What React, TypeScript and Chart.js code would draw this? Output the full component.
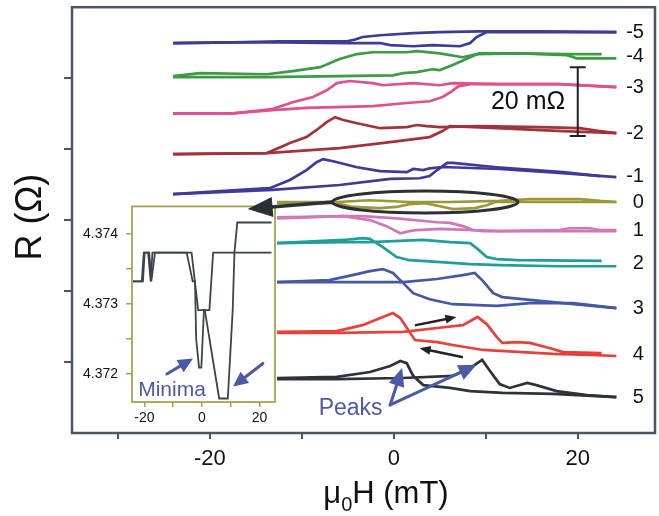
import React, { useEffect, useRef } from 'react';
import { Chart, registerables } from 'chart.js';

Chart.register(...registerables);

type Pt = [number, number];

// ---- main panel: field (mT) vs stacked resistance (mΩ offset), two sweep branches per curve ----
const m5A: Pt[] = [[-24.0,109.9],[-17.5,110.1],[-12.4,110.4],[-5.1,110.4],[-4.2,110.9],[-3.4,111.6],[-1.5,112.1],[2.1,112.7],[5.0,113.0],[9.3,113.2],[15.9,113.2],[24.2,113.0]];
const m5B: Pt[] = [[-24.0,109.9],[-17.5,110.1],[-12.4,110.1],[-5.1,109.9],[-1.5,109.9],[-0.4,109.3],[2.1,109.0],[4.2,109.3],[7.2,109.0],[8.3,109.9],[9.0,111.6],[10.1,113.0],[15.9,113.0],[24.2,113.0]];
const m4A: Pt[] = [[-24.0,100.6],[-21.1,101.4],[-13.8,101.1],[-11.0,102.0],[-8.0,103.1],[-5.9,105.4],[-4.0,106.8],[-2.3,107.3],[1.4,107.3],[2.5,107.6],[5.0,107.0],[7.5,105.9],[9.0,106.8],[13.7,107.0],[18.8,106.8],[22.6,106.8]];
const m4B: Pt[] = [[-24.0,100.3],[-13.8,100.3],[-0.1,100.8],[1.0,101.4],[2.5,101.7],[4.2,102.5],[5.0,102.3],[6.4,103.7],[8.3,105.9],[9.3,107.0],[13.7,107.0],[18.8,106.5],[19.9,105.6],[24.2,105.6]];
const m3A: Pt[] = [[-24.0,90.1],[-17.5,90.1],[-13.2,91.3],[-11.0,93.2],[-8.8,94.7],[-7.3,96.6],[-6.2,98.6],[-4.8,99.2],[-2.3,98.6],[-1.2,98.0],[2.1,98.6],[5.0,98.0],[6.4,98.6],[11.5,98.3],[18.0,98.3],[24.2,97.5]];
const m3B: Pt[] = [[-24.0,90.1],[-17.5,90.1],[-13.2,91.0],[-9.5,91.6],[-2.3,92.1],[1.4,93.0],[3.9,93.5],[5.3,94.7],[6.3,96.3],[7.0,97.7],[8.3,98.3],[18.0,98.3],[24.2,97.5]];
const m2A: Pt[] = [[-24.0,78.6],[-13.8,78.9],[-12.1,80.8],[-11.3,81.7],[-9.5,83.4],[-8.4,85.4],[-7.3,87.6],[-6.4,89.0],[-5.5,88.2],[-4.0,87.3],[-1.5,85.9],[1.4,86.2],[2.5,86.8],[3.6,86.5],[5.0,86.2],[9.3,86.5],[15.9,86.2],[20.2,85.9],[22.4,85.1],[24.2,84.5]];
const m2B: Pt[] = [[-24.0,78.6],[-13.8,78.9],[-5.9,80.3],[-0.4,82.0],[3.9,83.4],[5.3,85.1],[6.1,86.5],[11.2,85.9],[18.4,85.1],[24.2,84.5]];
const m1A: Pt[] = [[-24.0,67.3],[-16.7,68.5],[-13.5,69.0],[-11.3,71.3],[-9.5,74.1],[-8.4,76.3],[-7.7,77.2],[-6.6,76.6],[-4.0,74.9],[-1.5,73.8],[1.4,73.5],[2.1,74.4],[3.2,74.1],[3.9,74.6],[5.0,74.9],[6.1,74.9],[11.5,74.4],[18.0,73.3],[24.2,72.1]];
const m1B: Pt[] = [[-24.0,67.3],[-13.2,68.5],[-5.9,69.9],[-0.4,71.6],[2.8,71.8],[3.9,72.4],[4.7,74.1],[5.8,76.1],[6.4,76.1],[11.2,74.9],[18.4,73.5],[22.4,72.4]];
const p0A: Pt[] = [[-12.7,65.1],[-6.2,65.1],[-2.6,65.6],[1.7,65.1],[6.1,65.1],[11.5,65.4],[14.8,65.9],[20.2,65.9],[22.4,65.4],[24.2,65.1]];
const p0B: Pt[] = [[-12.7,64.8],[-6.2,64.8],[-4.5,63.7],[-1.5,63.4],[0.3,63.7],[1.7,64.5],[3.4,64.8],[5.0,63.9],[6.4,63.1],[8.8,63.4],[10.1,64.2],[11.0,65.1],[24.2,65.1]];
const p1A: Pt[] = [[-12.7,60.8],[-5.5,61.1],[-2.6,60.0],[-0.8,58.3],[0.7,56.3],[1.7,56.9],[2.5,57.2],[5.0,57.5],[8.6,57.2],[11.5,56.9],[18.0,57.2],[19.1,57.7],[21.3,57.7],[22.4,57.2],[24.2,57.2]];
const p1B: Pt[] = [[-12.7,60.5],[-5.5,61.1],[-3.4,61.1],[0.3,60.5],[4.7,59.4],[6.1,59.2],[7.5,58.3],[8.6,57.2],[9.7,56.9],[24.2,56.9]];
const p2A: Pt[] = [[-12.7,53.5],[-5.5,54.4],[-3.4,54.9],[-2.6,54.7],[-1.2,52.4],[0.3,49.6],[1.7,48.7],[4.7,48.2],[8.3,47.6],[11.5,47.3],[18.0,47.0],[24.2,47.0]];
const p2B: Pt[] = [[-12.7,53.5],[-5.5,53.8],[-2.6,53.8],[3.2,54.4],[6.1,53.8],[8.3,53.5],[9.0,52.1],[10.1,49.6],[11.2,49.0],[13.4,48.7],[22.6,48.5]];
const p3A: Pt[] = [[-12.7,42.5],[-7.0,43.1],[-4.5,44.5],[-2.6,45.6],[-1.2,46.2],[-0.1,45.1],[1.0,42.3],[2.1,39.4],[3.9,37.7],[6.4,36.3],[11.2,35.8],[14.8,36.6],[19.5,36.6],[24.2,35.2]];
const p3B: Pt[] = [[-12.7,42.5],[-7.0,42.5],[1.0,42.5],[4.7,43.4],[7.5,44.5],[8.8,45.1],[9.7,42.8],[10.8,39.4],[11.8,38.3],[14.8,37.5],[18.4,36.6],[24.2,35.2]];
const p4A: Pt[] = [[-12.7,28.5],[-6.2,28.7],[-3.4,30.4],[-1.2,32.7],[-0.1,33.8],[0.7,32.4],[1.7,28.5],[2.3,26.2],[4.7,25.6],[6.4,24.8],[9.7,23.4],[14.0,22.8],[17.3,22.3],[21.3,22.0],[24.2,21.7]];
const p4B: Pt[] = [[-12.7,28.2],[-6.2,28.2],[1.0,28.5],[4.7,29.6],[7.5,30.4],[9.1,32.7],[10.1,30.7],[11.2,27.0],[11.8,25.4],[13.4,25.6],[14.8,25.4],[17.0,23.9],[18.4,22.8],[22.6,22.5]];
const p5A: Pt[] = [[-12.7,15.5],[-6.2,15.8],[-2.6,17.2],[-0.4,18.9],[0.7,20.3],[1.4,19.7],[2.1,16.1],[3.2,13.5],[6.1,12.7],[8.3,11.8],[11.8,11.3],[17.3,11.0],[24.2,10.1]];
const p5B: Pt[] = [[-12.7,15.2],[-6.2,15.2],[1.0,15.5],[6.4,16.1],[8.3,18.3],[9.6,20.6],[10.4,17.7],[11.5,13.8],[12.6,12.7],[14.5,14.1],[15.5,13.5],[17.7,11.8],[21.0,10.7],[24.2,10.1]];

const curveNames = ['-5', '-4', '-3', '-2', '-1', '0', '1', '2', '3', '4', '5'];
const curveColors = ['#3b3c94', '#3d9a45', '#e0508a', '#a3323c', '#3f3a98', '#9a9838', '#d178b4', '#1f9e9a', '#4558a6', '#e8413c', '#2c3339'];
const curveBranches: Pt[][][] = [[m5A, m5B], [m4A, m4B], [m3A, m3B], [m2A, m2B], [m1A, m1B], [p0A, p0B], [p1A, p1B], [p2A, p2B], [p3A, p3B], [p4A, p4B], [p5A, p5B]];

const xTickValues = [-30, -20, -10, 0, 10, 20];
const xTickText = ['', '-20', '', '0', '', '20'];
const yTickValues = [20, 40, 60, 80, 100];

// ---- inset: curve "0" in absolute resistance (Ω) ----
const insetA: Pt[] = [[-24.0,4.37332],[-20.9,4.37332],[-20.2,4.37373],[-18.7,4.37373],[-17.8,4.37332],[-17.2,4.37373],[-5.3,4.37373],[-3.2,4.37332],[-2.4,4.37332],[-2.0,4.3725],[-1.0,4.37209],[-0.2,4.37209],[0.7,4.37291],[2.6,4.37291],[3.9,4.37373],[24.2,4.37373]];
const insetB: Pt[] = [[-24.0,4.37332],[-20.5,4.37332],[-19.9,4.37373],[-18.3,4.37373],[-17.6,4.37332],[-16.3,4.37373],[-3.6,4.37373],[-1.3,4.37291],[1.0,4.37291],[6.0,4.37165],[9.0,4.37165],[10.7,4.37291],[11.3,4.37373],[12.3,4.37416],[24.2,4.37416]];
const insetXTicks = [-20, -10, 0, 10, 20];
const insetXText = ['-20', '', '0', '', '20'];
const insetYTicks = [4.372, 4.3725, 4.373, 4.3735, 4.374];
const insetYText = ['4.372', '', '4.373', '', '4.374'];

const FONT = "'Liberation Sans', Arial, Helvetica, sans-serif";
const AXIS = '#4a5562';
const OLIVE = '#a8a24e';
const DARK = '#2b3036';
const BLUE = '#4b5aa6';

function arrow(ctx: CanvasRenderingContext2D, x1: number, y1: number, x2: number, y2: number, head: number, halfW: number, color: string, lw: number) {
  const a = Math.atan2(y2 - y1, x2 - x1);
  const bx = x2 - head * Math.cos(a);
  const by = y2 - head * Math.sin(a);
  ctx.save();
  ctx.strokeStyle = color;
  ctx.fillStyle = color;
  ctx.lineWidth = lw;
  ctx.lineCap = 'round';
  ctx.beginPath();
  ctx.moveTo(x1, y1);
  ctx.lineTo(bx + 1 * Math.cos(a), by + 1 * Math.sin(a));
  ctx.stroke();
  ctx.beginPath();
  ctx.moveTo(x2, y2);
  ctx.lineTo(bx + halfW * Math.sin(a), by - halfW * Math.cos(a));
  ctx.lineTo(bx - halfW * Math.sin(a), by + halfW * Math.cos(a));
  ctx.closePath();
  ctx.fill();
  ctx.restore();
}

const mainDecor = {
  id: 'mainDecor',
  afterDraw(chart: any) {
    const { ctx, chartArea: ca } = chart;
    const xs = chart.scales.x;
    const ys = chart.scales.y;
    const X = (v: number) => xs.getPixelForValue(v);
    const Y = (v: number) => ys.getPixelForValue(v);
    ctx.save();
    // frame
    ctx.strokeStyle = AXIS;
    ctx.lineWidth = 2.5;
    ctx.strokeRect(ca.left, ca.top, ca.right - ca.left, ca.bottom - ca.top);

    // curve labels at right
    ctx.fillStyle = '#111';
    ctx.font = `20px ${FONT}`;
    ctx.textAlign = 'right';
    ctx.textBaseline = 'middle';
    curveBranches.forEach((br, i) => {
      const yEnd = (br[0][br[0].length - 1][1] + br[1][br[1].length - 1][1]) / 2;
      ctx.fillText(curveNames[i], X(27.2), Y(yEnd));
    });

    // 20 mΩ scale bar
    const sbx = X(20.0);
    ctx.strokeStyle = '#222';
    ctx.lineWidth = 2;
    ctx.beginPath();
    ctx.moveTo(sbx, Y(103.1)); ctx.lineTo(sbx, Y(83.7));
    ctx.moveTo(sbx - 8, Y(103.1)); ctx.lineTo(sbx + 8, Y(103.1));
    ctx.moveTo(sbx - 8, Y(83.7)); ctx.lineTo(sbx + 8, Y(83.7));
    ctx.stroke();
    ctx.fillStyle = '#111';
    ctx.font = `25px ${FONT}`;
    ctx.textAlign = 'center';
    ctx.fillText('20 mΩ', X(14.6), Y(93.2));

    // ellipse around curve 0
    ctx.strokeStyle = DARK;
    ctx.lineWidth = 3;
    ctx.beginPath();
    ctx.ellipse(X(3.4), Y(65.1), X(13.5) - X(3.4), Y(65.1) - Y(68.2), 0, 0, Math.PI * 2);
    ctx.stroke();
    ctx.restore();

    // arrow from ellipse to inset
    arrow(ctx, X(-6.7), Y(65.1), X(-15.9), Y(63.1), 25, 10, DARK, 3.5);
    // sweep direction arrows on curve 4
    arrow(ctx, X(2.4), Y(30.4), X(6.8), Y(32.7), 11, 4.5, '#1e2226', 2.5);
    arrow(ctx, X(7.4), Y(21.4), X(2.8), Y(23.9), 11, 4.5, '#1e2226', 2.5);
    // Peaks
    arrow(ctx, X(-0.4), Y(7.9), X(0.9), Y(18.3), 18, 8, BLUE, 3);
    arrow(ctx, X(-0.4), Y(7.9), X(9.0), Y(19.2), 18, 8, BLUE, 3);
    ctx.save();
    ctx.fillStyle = BLUE;
    ctx.font = `23px ${FONT}`;
    ctx.textAlign = 'center';
    ctx.textBaseline = 'middle';
    ctx.fillText('Peaks', X(-4.7), Y(7.0));

    // axis titles
    ctx.fillStyle = '#111';
    ctx.save();
    ctx.translate(31, (ca.top + ca.bottom) / 2 - 3);
    ctx.rotate(-Math.PI / 2);
    ctx.font = `36px ${FONT}`;
    ctx.textAlign = 'center';
    ctx.textBaseline = 'middle';
    ctx.fillText('R (Ω)', 0, 0);
    ctx.restore();

    ctx.textAlign = 'left';
    ctx.textBaseline = 'alphabetic';
    const big = `31px ${FONT}`;
    const small = `20px ${FONT}`;
    ctx.font = big;
    const w1 = ctx.measureText('μ').width;
    const w3 = ctx.measureText('H (mT)').width;
    ctx.font = small;
    const w2 = ctx.measureText('0').width;
    let sx = 386 - (w1 + w2 + w3) / 2;
    const base = 503;
    ctx.font = big;
    ctx.fillText('μ', sx, base);
    sx += w1;
    ctx.font = small;
    ctx.fillText('0', sx, base + 8);
    sx += w2;
    ctx.font = big;
    ctx.fillText('H (mT)', sx, base);
    ctx.restore();
  },
};

const insetDecor = {
  id: 'insetDecor',
  beforeDraw(chart: any) {
    const { ctx, chartArea: ca } = chart;
    ctx.save();
    ctx.fillStyle = '#ffffff';
    ctx.fillRect(ca.left, ca.top, ca.right - ca.left, ca.bottom - ca.top);
    ctx.restore();
  },
  afterDraw(chart: any) {
    const { ctx, chartArea: ca } = chart;
    const xs = chart.scales.x;
    const ys = chart.scales.y;
    const X = (v: number) => xs.getPixelForValue(v);
    const Y = (v: number) => ys.getPixelForValue(v);
    ctx.save();
    ctx.strokeStyle = OLIVE;
    ctx.lineWidth = 1.8;
    ctx.strokeRect(ca.left, ca.top, ca.right - ca.left, ca.bottom - ca.top);
    ctx.restore();
    arrow(ctx, X(-12.2), Y(4.3720), X(-3.1), Y(4.37222), 15, 7, BLUE, 3);
    arrow(ctx, X(21.2), Y(4.37215), X(10.8), Y(4.37182), 15, 7, BLUE, 3);
    ctx.save();
    ctx.fillStyle = BLUE;
    ctx.font = `21px ${FONT}`;
    ctx.textAlign = 'center';
    ctx.textBaseline = 'middle';
    ctx.fillText('Minima', X(-10.4), Y(4.37177));
    ctx.restore();
  },
};

export default function App() {
  const mainRef = useRef<HTMLCanvasElement>(null);
  const insetRef = useRef<HTMLCanvasElement>(null);

  useEffect(() => {
    const datasets: any[] = [];
    curveBranches.forEach((br, i) => {
      br.forEach((branch) => {
        datasets.push({
          label: curveNames[i],
          data: branch.map(([x, y]) => ({ x, y })),
          borderColor: curveColors[i],
          backgroundColor: curveColors[i],
          borderWidth: 2.7,
          showLine: true,
          pointRadius: 0,
          tension: 0,
          fill: false,
        });
      });
    });

    const main = new Chart(mainRef.current as HTMLCanvasElement, {
      type: 'scatter',
      data: { datasets },
      options: {
        animation: false,
        responsive: false,
        devicePixelRatio: 1,
        layout: { padding: { top: 7, right: 4, left: 0, bottom: 0 } },
        plugins: { legend: { display: false }, tooltip: { enabled: false } },
        scales: {
          x: {
            type: 'linear',
            min: -35,
            max: 28.4,
            afterBuildTicks: (s: any) => { s.ticks = xTickValues.map((v) => ({ value: v })); },
            afterFit: (s: any) => { s.height = 83; },
            ticks: {
              autoSkip: false,
              maxRotation: 0,
              padding: 7,
              color: '#111',
              font: { family: FONT, size: 22 },
              callback: (v: any) => { const k = xTickValues.indexOf(Number(v)); return k >= 0 ? xTickText[k] : ''; },
            },
            grid: { drawOnChartArea: false, drawTicks: true, tickLength: 6, color: AXIS, lineWidth: 2 },
            border: { display: false },
          },
          y: {
            type: 'linear',
            min: 0,
            max: 120,
            afterBuildTicks: (s: any) => { s.ticks = yTickValues.map((v) => ({ value: v })); },
            afterFit: (s: any) => { s.width = 72; },
            ticks: { callback: () => '', padding: 0 },
            grid: { drawOnChartArea: false, drawTicks: true, tickLength: 8, color: AXIS, lineWidth: 2 },
            border: { display: false },
          },
        },
      } as any,
      plugins: [mainDecor],
    });

    const inset = new Chart(insetRef.current as HTMLCanvasElement, {
      type: 'scatter',
      data: {
        datasets: [insetA, insetB].map((b) => ({
          data: b.map(([x, y]) => ({ x, y })),
          borderColor: '#3b434b',
          borderWidth: 1.8,
          showLine: true,
          pointRadius: 0,
          tension: 0,
          fill: false,
        })),
      },
      options: {
        animation: false,
        responsive: false,
        devicePixelRatio: 1,
        layout: { padding: { top: 10, right: 10, left: 0, bottom: 0 } },
        plugins: { legend: { display: false }, tooltip: { enabled: false } },
        scales: {
          x: {
            type: 'linear',
            min: -24.3,
            max: 25.4,
            afterBuildTicks: (s: any) => { s.ticks = insetXTicks.map((v) => ({ value: v })); },
            afterFit: (s: any) => { s.height = 28; },
            ticks: {
              autoSkip: false,
              maxRotation: 0,
              padding: 3,
              color: '#111',
              font: { family: FONT, size: 14 },
              callback: (v: any) => { const k = insetXTicks.indexOf(Number(v)); return k >= 0 ? insetXText[k] : ''; },
            },
            grid: { drawOnChartArea: false, drawTicks: true, tickLength: 5, color: OLIVE, lineWidth: 1.5 },
            border: { display: false },
          },
          y: {
            type: 'linear',
            min: 4.3716,
            max: 4.37439,
            afterBuildTicks: (s: any) => { s.ticks = insetYTicks.map((v) => ({ value: v })); },
            afterFit: (s: any) => { s.width = 62; },
            ticks: {
              autoSkip: false,
              padding: 8,
              color: '#111',
              font: { family: FONT, size: 14 },
              callback: (v: any) => {
                let k = -1;
                insetYTicks.forEach((t, i) => { if (Math.abs(t - Number(v)) < 1e-7) k = i; });
                return k >= 0 ? insetYText[k] : '';
              },
            },
            grid: { drawOnChartArea: false, drawTicks: true, tickLength: 6, color: OLIVE, lineWidth: 1.5 },
            border: { display: false },
          },
        },
      } as any,
      plugins: [insetDecor],
    });

    return () => {
      main.destroy();
      inset.destroy();
    };
  }, []);

  return (
    <div style={{ position: 'fixed', left: 0, top: 0, width: 659, height: 516, background: '#ffffff', overflow: 'hidden' }}>
      <canvas ref={insetRef} width={215} height={240} style={{ position: 'absolute', left: 70, top: 190, width: 215, height: 240, zIndex: 0 }} />
      <canvas ref={mainRef} width={659} height={516} style={{ position: 'absolute', left: 0, top: 0, width: 659, height: 516, zIndex: 1 }} />
    </div>
  );
}
